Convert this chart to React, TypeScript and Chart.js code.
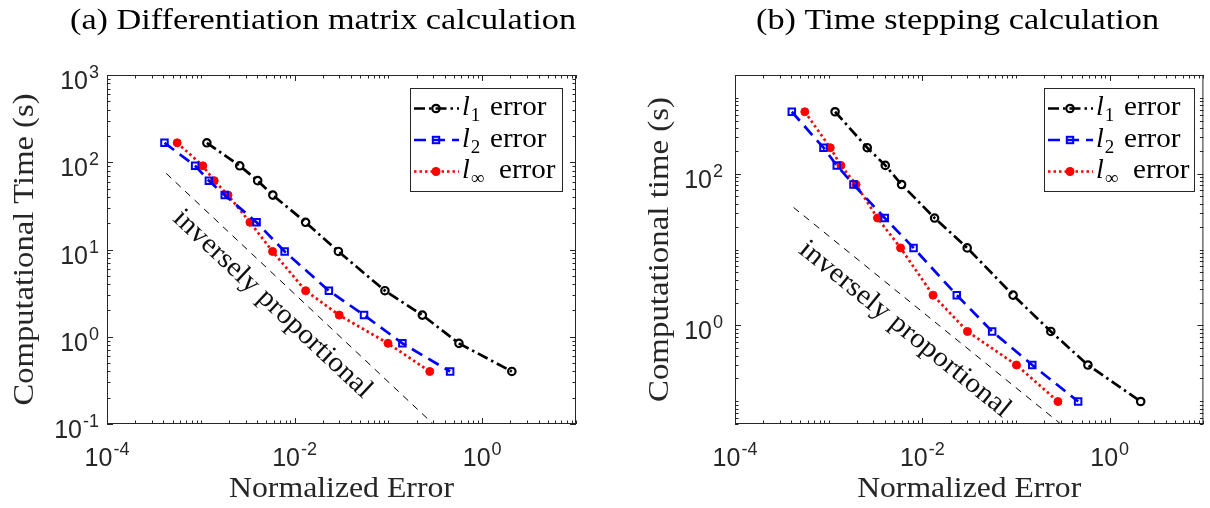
import { useEffect, useRef } from "react";
import { Chart, registerables } from "chart.js";

Chart.register(...registerables);

const W = 1210;
const H = 508;

// ---------- Panel (a): differentiation matrix calculation ----------
const timeA = [167, 91, 61.5, 42, 20.5, 9.5, 3.37, 1.77, 0.84, 0.4];
const l1ErrA = [1.16e-3, 2.6e-3, 4.04e-3, 5.86e-3, 0.0131, 0.0293, 0.0918, 0.23, 0.565, 2.07];
const l2ErrA = [4.1e-4, 8.7e-4, 1.22e-3, 1.8e-3, 3.93e-3, 7.83e-3, 0.0232, 0.055, 0.141, 0.455];
const linfErrA = [5.6e-4, 1.05e-3, 1.39e-3, 1.95e-3, 3.34e-3, 5.82e-3, 0.0131, 0.0299, 0.099, 0.276];
const refErrA = [4.27e-4, 0.3];
const refTimeA = [74.6, 0.1];
const xTickExpA = [-4, -2, 0];
const yTickExpA = [-1, 0, 1, 2, 3];

// ---------- Panel (b): time stepping calculation ----------
const timeB = [655, 220, 128.5, 72, 26, 10.5, 2.5, 0.83, 0.3, 0.099];
const l1ErrB = [1.17e-3, 2.58e-3, 4.02e-3, 6.0e-3, 0.0135, 0.0301, 0.093, 0.235, 0.585, 2.14];
const l2ErrB = [4.04e-4, 8.8e-4, 1.22e-3, 1.84e-3, 3.97e-3, 8.05e-3, 0.0233, 0.0556, 0.149, 0.46];
const linfErrB = [5.56e-4, 1.04e-3, 1.35e-3, 1.96e-3, 3.32e-3, 5.85e-3, 0.013, 0.0303, 0.101, 0.28];
const refErrB = [4.22e-4, 0.3];
const refTimeB = [35.8, 0.05];
const xTickExpB = [-4, -2, 0];
const yTickExpB = [0, 2];

const legendSubs = ["1", "2", "\u221E"];
const annotationText = "inversely proportional";

const SERIF = '"Liberation Serif", "Times New Roman", serif';
const SANS = '"Liberation Sans", Arial, sans-serif';
const AXC = "#262626";

type Panel = {
  title: string;
  titleLeft: number;
  titleWidth: number;
  ylabel: string;
  ylabelX: number;
  ylabelLen: number;
  xlabelWidth: number;
  area: { l: number; r: number; t: number; b: number };
  xMin: number;
  xMax: number;
  yMin: number;
  yMax: number;
  xTickExp: number[];
  yTickExp: number[];
  yLabelGap: number;
  legend: { l: number; t: number; r: number; b: number; rows: number[] };
  time: number[];
  l1: number[];
  l2: number[];
  linf: number[];
  refX: number[];
  refY: number[];
  annAlong: number;
  annPerp: number;
  annLen: number;
};

const panelA: Panel = {
  title: "(a) Differentiation matrix calculation",
  titleLeft: 70,
  titleWidth: 506,
  ylabel: "Computational Time (s)",
  ylabelX: 33,
  ylabelLen: 312,
  xlabelWidth: 225,
  area: { l: 107, r: 576, t: 75, b: 424 },
  xMin: 1e-4,
  xMax: 10,
  yMin: 0.1,
  yMax: 1000,
  xTickExp: xTickExpA,
  yTickExp: yTickExpA,
  yLabelGap: 8,
  legend: { l: 410, t: 88, r: 562, b: 191, rows: [108.5, 140, 171.5] },
  time: timeA,
  l1: l1ErrA,
  l2: l2ErrA,
  linf: linfErrA,
  refX: refErrA,
  refY: refTimeA,
  annAlong: 36,
  annPerp: 30,
  annLen: 262,
};

const panelB: Panel = {
  title: "(b) Time stepping calculation",
  titleLeft: 756,
  titleWidth: 403,
  ylabel: "Computational time (s)",
  ylabelX: 668,
  ylabelLen: 305,
  xlabelWidth: 224,
  area: { l: 735, r: 1209, t: 75, b: 424 },
  xMin: 1e-4,
  xMax: 10,
  yMin: 0.05,
  yMax: 2000,
  xTickExp: xTickExpB,
  yTickExp: yTickExpB,
  yLabelGap: 12,
  legend: { l: 1044, t: 88, r: 1194, b: 191, rows: [108.5, 140, 171.5] },
  time: timeB,
  l1: l1ErrB,
  l2: l2ErrB,
  linf: linfErrB,
  refX: refErrB,
  refY: refTimeB,
  annAlong: 31,
  annPerp: 32,
  annLen: 264,
};

const STYLES = [
  { color: "#000000", dash: [11, 4, 2.5, 4], marker: "circleOpen" },
  { color: "#0000ff", dash: [12, 7], marker: "square" },
  { color: "#ff0000", dash: [2.5, 3], marker: "dot" },
];

function stretchText(
  ctx: CanvasRenderingContext2D,
  text: string,
  x: number,
  y: number,
  font: string,
  targetW: number | null,
  align: "left" | "center" | "right" = "left"
) {
  ctx.save();
  ctx.font = font;
  ctx.textAlign = "left";
  ctx.textBaseline = "alphabetic";
  const w = ctx.measureText(text).width;
  const sx = targetW ? targetW / w : 1;
  const dw = w * sx;
  let x0 = x;
  if (align === "center") x0 = x - dw / 2;
  else if (align === "right") x0 = x - dw;
  ctx.translate(x0, y);
  ctx.scale(sx, 1);
  ctx.fillText(text, 0, 0);
  ctx.restore();
}

function drawPow(
  ctx: CanvasRenderingContext2D,
  exp: number,
  x: number,
  y: number,
  align: "center" | "right"
) {
  const base = "10";
  const sup = exp < 0 ? "-" + String(-exp) : String(exp);
  ctx.save();
  ctx.fillStyle = AXC;
  ctx.textAlign = "left";
  ctx.textBaseline = "alphabetic";
  ctx.font = `25px ${SANS}`;
  const wb = ctx.measureText(base).width;
  ctx.font = `18px ${SANS}`;
  const ws = ctx.measureText(sup).width;
  const total = wb + ws + 1;
  const x0 = align === "center" ? x - total / 2 : x - total;
  ctx.font = `25px ${SANS}`;
  ctx.fillText(base, x0, y);
  ctx.font = `18px ${SANS}`;
  ctx.fillText(sup, x0 + wb + 1, y - 11);
  ctx.restore();
}

function drawMarker(ctx: CanvasRenderingContext2D, kind: string, x: number, y: number, color: string) {
  ctx.save();
  ctx.setLineDash([]);
  ctx.strokeStyle = color;
  ctx.fillStyle = color;
  if (kind === "circleOpen") {
    ctx.lineWidth = 2.2;
    ctx.beginPath();
    ctx.arc(x, y, 3.7, 0, Math.PI * 2);
    ctx.stroke();
  } else if (kind === "square") {
    ctx.lineWidth = 2;
    ctx.strokeRect(x - 3.2, y - 3.2, 6.4, 6.4);
  } else {
    ctx.beginPath();
    ctx.arc(x, y, 4.5, 0, Math.PI * 2);
    ctx.fill();
  }
  ctx.restore();
}

function logTicks(min: number, max: number) {
  const out: { v: number; e: number; k: number }[] = [];
  for (let e = Math.floor(Math.log10(min)) - 1; e <= Math.ceil(Math.log10(max)); e++) {
    for (let k = 1; k <= 9; k++) {
      const v = k * Math.pow(10, e);
      if (v >= min * 0.9999 && v <= max * 1.0001) out.push({ v, e, k });
    }
  }
  return out;
}

function makeDecor(p: Panel) {
  return {
    id: "matlabDecor",
    afterDatasetsDraw(chart: any) {
      const ctx: CanvasRenderingContext2D = chart.ctx;
      const xs = chart.scales.x;
      const ys = chart.scales.y;
      const { left, right, top, bottom } = chart.chartArea;
      ctx.save();

      // ticks (inward, on all four sides)
      ctx.strokeStyle = AXC;
      ctx.lineWidth = 1;
      ctx.setLineDash([]);
      ctx.beginPath();
      for (const t of logTicks(p.xMin, p.xMax)) {
        const major = t.k === 1 && p.xTickExp.includes(t.e);
        const len = major ? 6 : 3.5;
        const px = Math.round(xs.getPixelForValue(t.v)) + 0.5;
        ctx.moveTo(px, bottom);
        ctx.lineTo(px, bottom - len);
        ctx.moveTo(px, top);
        ctx.lineTo(px, top + len);
      }
      for (const t of logTicks(p.yMin, p.yMax)) {
        const major = t.k === 1 && p.yTickExp.includes(t.e);
        const len = major ? 6 : 3.5;
        const py = Math.round(ys.getPixelForValue(t.v)) + 0.5;
        ctx.moveTo(left, py);
        ctx.lineTo(left + len, py);
        ctx.moveTo(right, py);
        ctx.lineTo(right - len, py);
      }
      ctx.stroke();

      // frame
      ctx.strokeRect(left + 0.5, top + 0.5, right - left - 1, bottom - top - 1);

      // tick labels
      for (const e of p.xTickExp) {
        const px = xs.getPixelForValue(Math.pow(10, e));
        drawPow(ctx, e, px, bottom + 42, "center");
      }
      for (const e of p.yTickExp) {
        const py = ys.getPixelForValue(Math.pow(10, e));
        drawPow(ctx, e, left - p.yLabelGap, py + 14, "right");
      }

      // axis labels
      ctx.fillStyle = AXC;
      stretchText(ctx, "Normalized Error", (left + right) / 2, 497, `30px ${SERIF}`, p.xlabelWidth, "center");
      ctx.save();
      ctx.translate(p.ylabelX, (top + bottom) / 2);
      ctx.rotate(-Math.PI / 2);
      stretchText(ctx, p.ylabel, 0, 0, `30px ${SERIF}`, p.ylabelLen, "center");
      ctx.restore();

      // title
      ctx.fillStyle = "#000";
      stretchText(ctx, p.title, p.titleLeft, 29, `30px ${SERIF}`, p.titleWidth, "left");

      // annotation along the reference line
      const x0 = xs.getPixelForValue(p.refX[0]);
      const y0 = ys.getPixelForValue(p.refY[0]);
      const x1 = xs.getPixelForValue(p.refX[1]);
      const y1 = ys.getPixelForValue(p.refY[1]);
      const ang = Math.atan2(y1 - y0, x1 - x0);
      const dx = Math.cos(ang);
      const dy = Math.sin(ang);
      const nx = -dy;
      const ny = dx;
      const bx = x0 + dx * p.annAlong + nx * p.annPerp;
      const by = y0 + dy * p.annAlong + ny * p.annPerp;
      ctx.save();
      ctx.fillStyle = "#111";
      ctx.translate(bx, by);
      ctx.rotate(ang);
      stretchText(ctx, annotationText, 0, 0, `28px ${SERIF}`, p.annLen, "left");
      ctx.restore();

      // legend
      const L = p.legend;
      ctx.fillStyle = "#fff";
      ctx.fillRect(L.l, L.t, L.r - L.l, L.b - L.t);
      ctx.strokeStyle = AXC;
      ctx.lineWidth = 1;
      ctx.setLineDash([]);
      ctx.strokeRect(L.l + 0.5, L.t + 0.5, L.r - L.l, L.b - L.t);
      for (let i = 0; i < 3; i++) {
        const st = STYLES[i];
        const ry = L.rows[i];
        ctx.save();
        ctx.strokeStyle = st.color;
        ctx.lineWidth = 2.6;
        ctx.setLineDash(st.dash);
        ctx.beginPath();
        ctx.moveTo(L.l + 4, ry);
        ctx.lineTo(L.l + 49, ry);
        ctx.stroke();
        ctx.restore();
        drawMarker(ctx, st.marker, L.l + 26, ry, st.color);

        const base = ry + 6.5;
        const tx = L.l + 52;
        ctx.fillStyle = "#000";
        ctx.font = `italic 28px ${SERIF}`;
        ctx.textAlign = "left";
        ctx.textBaseline = "alphabetic";
        ctx.fillText("l", tx, base);
        const lw = ctx.measureText("l").width;
        ctx.font = `19px ${SERIF}`;
        ctx.fillText(legendSubs[i], tx + lw + 1, base + 6);
        const errStart = i === 2 ? L.l + 89 : L.l + 80;
        stretchText(ctx, "error", errStart, base, `28px ${SERIF}`, 56.5, "left");
      }

      ctx.restore();
    },
  };
}

function pts(xv: number[], yv: number[]) {
  return xv.map((x, i) => ({ x, y: yv[i] }));
}

function buildChart(canvas: HTMLCanvasElement, p: Panel) {
  return new Chart(canvas, {
    type: "line",
    data: {
      datasets: [
        {
          label: "l1 error",
          data: pts(p.l1, p.time),
          borderColor: STYLES[0].color,
          borderWidth: 2.7,
          borderDash: STYLES[0].dash,
          pointStyle: "circle",
          pointRadius: 3.7,
          pointBorderWidth: 2.2,
          pointBackgroundColor: "rgba(0,0,0,0)",
          pointBorderColor: STYLES[0].color,
          tension: 0,
          fill: false,
        },
        {
          label: "l2 error",
          data: pts(p.l2, p.time),
          borderColor: STYLES[1].color,
          borderWidth: 2.7,
          borderDash: STYLES[1].dash,
          pointStyle: "rect",
          pointRadius: 4.6,
          pointBorderWidth: 2,
          pointBackgroundColor: "rgba(0,0,0,0)",
          pointBorderColor: STYLES[1].color,
          tension: 0,
          fill: false,
        },
        {
          label: "linf error",
          data: pts(p.linf, p.time),
          borderColor: STYLES[2].color,
          borderWidth: 2.7,
          borderDash: STYLES[2].dash,
          pointStyle: "circle",
          pointRadius: 4,
          pointBorderWidth: 1,
          pointBackgroundColor: STYLES[2].color,
          pointBorderColor: STYLES[2].color,
          tension: 0,
          fill: false,
        },
        {
          label: "reference",
          data: pts(p.refX, p.refY),
          borderColor: "#000",
          borderWidth: 1,
          borderDash: [7, 6],
          pointRadius: 0,
          tension: 0,
          fill: false,
        },
      ],
    },
    options: {
      responsive: false,
      animation: false,
      devicePixelRatio: 1,
      events: [],
      layout: {
        padding: {
          left: p.area.l,
          right: W - p.area.r,
          top: p.area.t,
          bottom: H - p.area.b,
        },
      },
      plugins: {
        legend: { display: false },
        title: { display: false },
        tooltip: { enabled: false },
      },
      scales: {
        x: { type: "logarithmic", min: p.xMin, max: p.xMax, display: false },
        y: { type: "logarithmic", min: p.yMin, max: p.yMax, display: false },
      },
    } as any,
    plugins: [makeDecor(p)],
  });
}

export default function App() {
  const refA = useRef<HTMLCanvasElement>(null);
  const refB = useRef<HTMLCanvasElement>(null);
  useEffect(() => {
    const ca = buildChart(refA.current!, panelA);
    const cb = buildChart(refB.current!, panelB);
    return () => {
      ca.destroy();
      cb.destroy();
    };
  }, []);
  return (
    <div style={{ position: "fixed", left: 0, top: 0, width: W, height: H, background: "#fff" }}>
      <canvas ref={refA} width={W} height={H} style={{ position: "absolute", left: 0, top: 0 }} />
      <canvas ref={refB} width={W} height={H} style={{ position: "absolute", left: 0, top: 0 }} />
    </div>
  );
}
